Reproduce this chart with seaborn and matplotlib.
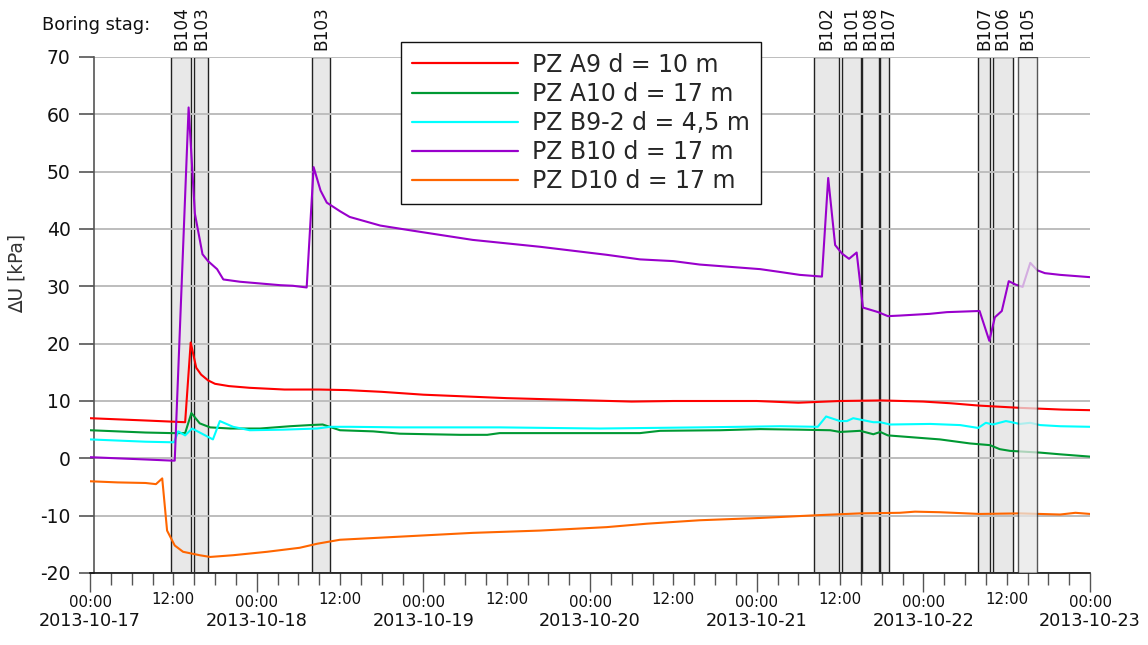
import matplotlib
matplotlib.use('Agg')
import matplotlib.pyplot as plt
import matplotlib.dates as mdates
from matplotlib.ticker import FuncFormatter, MultipleLocator
import numpy as np
import pandas as pd
import seaborn as sns

# 数据: 小时 (从 2013-10-17 00:00 起) 和 ΔU [kPa]
t0 = pd.Timestamp('2013-10-17 00:00')

a9_h = [0, 4, 8, 11.8, 13.7, 14.5, 15.3, 16.0, 17.0, 18.0, 20.0, 23.0, 28.0, 33.0, 37.0,
        42.0, 48.0, 54.0, 60.0, 66.0, 72.0, 78.0, 84.0, 90.0, 96.0, 102.0, 108.0, 114.0,
        120.0, 124.0, 128.0, 134.0, 140.0, 144.0]
a9_v = [7.0, 6.8, 6.6, 6.4, 6.3, 20.2, 15.8, 14.6, 13.6, 13.0, 12.6, 12.3, 12.0, 12.0, 11.9,
        11.6, 11.1, 10.8, 10.5, 10.3, 10.1, 9.9, 10.0, 10.0, 10.0, 9.7, 10.0, 10.1,
        9.9, 9.6, 9.2, 8.8, 8.5, 8.4]

a10_h = [0, 4, 8, 11.8, 13.7, 14.6, 15.8, 17.3, 20.2, 24.5, 28.8, 31.7, 33.5, 36.0, 40.8,
         44.6, 53.3, 57.2, 59.0, 67.7, 79.2, 82.1, 90.7, 96.5, 102.2, 106.6, 108.0, 110.9,
         112.8, 113.8, 114.9, 118.1, 122.4, 126.7, 129.6, 131.0, 132.5, 136.8, 139.7, 144]
a10_v = [4.9, 4.7, 4.5, 4.4, 4.4, 7.9, 6.1, 5.4, 5.2, 5.2, 5.6, 5.8, 5.9, 4.9, 4.7,
         4.3, 4.1, 4.1, 4.4, 4.4, 4.4, 4.8, 4.9, 5.1, 5.0, 4.9, 4.6, 4.8,
         4.2, 4.6, 4.0, 3.7, 3.3, 2.6, 2.3, 1.6, 1.3, 1.0, 0.7, 0.3]

b92_h = [0, 4, 8, 11.8, 12.1, 12.7, 13.7, 14.7, 17.7, 18.7, 20.6, 23.0, 27.8, 32.7, 34.6,
         37.4, 44.6, 59.0, 73.4, 87.8, 99.4, 104.8, 106.0, 108.0, 109.0, 109.9, 112.8,
         113.8, 115.2, 121.0, 125.3, 127.9, 129.0, 130.0, 131.9, 133.9, 135.4, 136.8,
         139.7, 144]
b92_v = [3.3, 3.1, 2.9, 2.8, 2.8, 4.7, 4.0, 5.2, 3.3, 6.5, 5.5, 4.9, 5.0, 5.2, 5.5,
         5.5, 5.4, 5.4, 5.2, 5.4, 5.6, 5.5, 7.3, 6.5, 6.5, 7.0, 6.3,
         6.3, 5.9, 6.0, 5.8, 5.3, 6.2, 5.9, 6.5, 6.0, 6.2, 5.8,
         5.6, 5.5]

b10_h = [0, 4, 8, 11.8, 12.2, 14.2, 15.1, 16.2, 17.0, 18.3, 19.2, 21.6, 24.5, 27.4, 29.2,
         31.2, 32.2, 33.2, 34.1, 36.0, 37.4, 41.8, 46.5, 55.1, 64.8, 74.4, 79.2, 84.0,
         87.8, 96.5, 99.4, 102.2, 105.4, 106.3, 107.3, 108.3, 109.3, 110.4, 111.3, 113.5,
         114.9, 116.6, 120.9, 123.4, 128.1, 129.5, 130.3, 131.3, 132.3, 133.3, 134.3,
         135.4, 136.4, 137.5, 139.7, 144]
b10_v = [0.2, 0.0, -0.2, -0.4, -0.4, 61.2, 42.7, 35.6, 34.4, 33.0, 31.2, 30.8, 30.5, 30.2, 30.1,
         29.8, 50.8, 46.7, 44.6, 43.1, 42.1, 40.6, 39.7, 38.1, 36.9, 35.5, 34.7, 34.4,
         33.8, 33.0, 32.5, 32.0, 31.7, 48.9, 37.2, 35.7, 34.8, 35.9, 26.3, 25.5,
         24.8, 24.9, 25.2, 25.5, 25.7, 20.5, 24.6, 25.7, 30.9, 30.3, 29.9,
         34.1, 32.8, 32.3, 32.0, 31.6]

d10_h = [0, 4, 8, 9.5, 10.4, 11.1, 12.2, 13.4, 15.8, 17.3, 20.6, 25.5, 30.2, 32.7, 36.0,
         45.6, 55.1, 64.8, 74.4, 80.2, 87.8, 96.5, 105.1, 110.9, 116.6, 118.8, 122.4,
         128.1, 133.9, 139.7, 141.9, 144]
d10_v = [-4.0, -4.2, -4.3, -4.5, -3.5, -12.6, -15.2, -16.3, -16.9, -17.2, -16.9, -16.3, -15.6, -14.9, -14.2,
         -13.6, -13.0, -12.6, -12.0, -11.4, -10.8, -10.4, -9.9, -9.6, -9.5, -9.3, -9.4,
         -9.7, -9.6, -9.8, -9.5, -9.7]

series_names = ['PZ A9 d = 10 m', 'PZ A10 d = 17 m', 'PZ B9-2 d = 4,5 m',
                'PZ B10 d = 17 m', 'PZ D10 d = 17 m']
series_colors = ['#ff0000', '#009933', '#00ffff', '#9900cc', '#ff6600']

# 钻孔时间段 (小时)
bore_names = ['B104', 'B103', 'B103', 'B102', 'B101', 'B108', 'B107', 'B107', 'B106', 'B105']
bore_start = [11.7, 15.0, 32.0, 104.2, 108.3, 111.2, 113.8, 127.9, 130.0, 133.6]
bore_end = [14.5, 17.0, 34.6, 107.8, 111.0, 113.6, 115.0, 129.6, 132.9, 136.3]

# 长格式数据
frames = []
for name, hh, vv in zip(series_names,
                        [a9_h, a10_h, b92_h, b10_h, d10_h],
                        [a9_v, a10_v, b92_v, b10_v, d10_v]):
    frames.append(pd.DataFrame({'time': t0 + pd.to_timedelta(hh, unit='h'),
                                'dU': vv, 'serie': name}))
df = pd.concat(frames, ignore_index=True)

sns.set_style('white')
plt.rcParams['font.family'] = ['DejaVu Sans']
plt.rcParams['axes.unicode_minus'] = False
plt.rcParams['xtick.bottom'] = True
plt.rcParams['ytick.left'] = True

fig = plt.figure(figsize=(11.48, 6.45), dpi=100)
ax = fig.add_axes([90 / 1148, 1 - 573 / 645, 1000 / 1148, 516 / 645])

sns.lineplot(data=df, x='time', y='dU', hue='serie', palette=series_colors,
             hue_order=series_names, estimator=None, sort=False, linewidth=1.5,
             ax=ax, zorder=3)

# 钻孔灰色框
for i, (name, s, e) in enumerate(zip(bore_names, bore_start, bore_end)):
    xs = t0 + pd.Timedelta(hours=s)
    xe = t0 + pd.Timedelta(hours=e)
    last = i == len(bore_names) - 1  # 原图最后一个框盖在曲线上面
    ax.axvspan(xs, xe, facecolor='#e8e8e8', edgecolor='#222222', linewidth=1.0,
               alpha=0.75 if last else 1.0, zorder=4 if last else 0.4)
    nudge = 3 if (name == 'B107' and i == 6) else 0
    ax.annotate(name, xy=(xs + (xe - xs) / 2, 70), xytext=(nudge, 5),
                textcoords='offset points', rotation=90, ha='center', va='bottom',
                fontsize=12.2, color='#111111', annotation_clip=False)

# 坐标轴
ax.set_xlim(t0, t0 + pd.Timedelta(days=6))
ax.set_ylim(-20, 70)
ax.yaxis.set_major_locator(MultipleLocator(10))
ax.set_axisbelow(True)
ax.grid(axis='y', color='#bdbdbd', linewidth=1.4)
ax.grid(axis='x', visible=False)

for side in ['top', 'right']:
    ax.spines[side].set_visible(False)
ax.spines['left'].set_position(('data', mdates.date2num(t0 + pd.Timedelta(minutes=35))))
ax.spines['left'].set_color('#555555')
ax.spines['left'].set_linewidth(1.2)
ax.spines['bottom'].set_color('#111111')
ax.spines['bottom'].set_linewidth(1.2)

ax.xaxis.set_major_locator(mdates.DayLocator())
ax.xaxis.set_major_formatter(mdates.DateFormatter('%H:%M'))
ax.xaxis.set_minor_locator(mdates.HourLocator(byhour=range(0, 24, 3)))
ax.xaxis.set_minor_formatter(FuncFormatter(
    lambda x, pos: '12:00' if mdates.num2date(x).hour == 12 else ''))

ax.tick_params(axis='x', which='major', direction='out', length=14, width=1.0, bottom=True,
               color='#555555', labelsize=10.8, pad=2, labelcolor='#111111')
ax.tick_params(axis='x', which='minor', direction='out', length=8.5, width=1.0, bottom=True,
               color='#555555', labelsize=10.8, pad=5, labelcolor='#111111')
ax.tick_params(axis='y', direction='out', length=11, width=1.2, color='#555555',
               labelsize=13.5, pad=6, labelcolor='#111111', left=True)

for d in range(7):
    ax.text(t0 + pd.Timedelta(days=d), -0.093, (t0 + pd.Timedelta(days=d)).strftime('%Y-%m-%d'),
            transform=ax.get_xaxis_transform(), ha='center', va='center',
            fontsize=12.7, color='#111111')

ax.set_xlabel('')
ax.set_ylabel('∆U [kPa]', fontsize=13.4, color='#333333')
ax.yaxis.set_label_coords(-0.063, 0.581)

fig.text(42 / 1148, 1 - 25 / 645, 'Boring stag:', fontsize=12.8, ha='left', va='center',
         color='#111111')

handles, labels = ax.get_legend_handles_labels()
leg = ax.legend(handles, labels, loc='upper left',
                bbox_to_anchor=(401 / 1148, 1 - 42 / 645), bbox_transform=fig.transFigure,
                borderaxespad=0, fontsize=17, frameon=True, fancybox=False,
                framealpha=1, edgecolor='#111111', handlelength=4.5, handletextpad=0.6,
                labelspacing=0.22, borderpad=0.45)
leg.get_frame().set_linewidth(1.0)
leg.set_zorder(10)
for line in leg.get_lines():
    line.set_linewidth(1.6)

fig.savefig('out.png', dpi=100, facecolor='white')
plt.close(fig)
